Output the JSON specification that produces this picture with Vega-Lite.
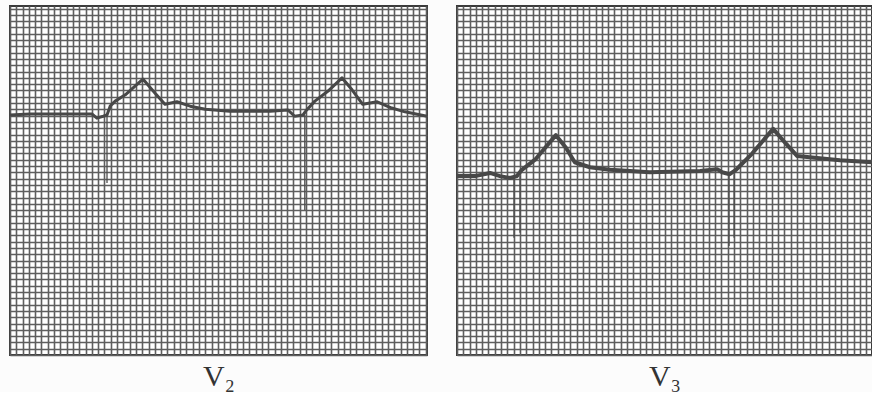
{
  "$schema": "https://vega.github.io/schema/vega-lite/v6.json",
  "background": "#fcfcfc",
  "padding": {"left": 7, "top": 5, "right": 0, "bottom": 0},
  "spacing": 24,
  "datasets": {
    "v2": [
      {"mm": 0, "amp": 38.1}, {"mm": 3.17, "amp": 38.25}, {"mm": 11.1, "amp": 38.25}, {"mm": 13.0, "amp": 38.25},
      {"mm": 13.8, "amp": 37.6}, {"mm": 14.8, "amp": 37.9}, {"mm": 15.4, "amp": 38.1}, {"mm": 15.9, "amp": 39.5},
      {"mm": 16.7, "amp": 40.3}, {"mm": 18.3, "amp": 41.3}, {"mm": 21.1, "amp": 43.8}, {"mm": 23.0, "amp": 41.6},
      {"mm": 24.6, "amp": 39.8}, {"mm": 26.5, "amp": 40.2}, {"mm": 28.6, "amp": 39.5}, {"mm": 31.0, "amp": 39.0},
      {"mm": 34.9, "amp": 38.7}, {"mm": 41.3, "amp": 38.7}, {"mm": 44.1, "amp": 38.9}, {"mm": 45.2, "amp": 37.9},
      {"mm": 46.5, "amp": 38.1}, {"mm": 47.1, "amp": 38.9}, {"mm": 48.4, "amp": 40.3}, {"mm": 50.5, "amp": 41.9},
      {"mm": 52.7, "amp": 44.0}, {"mm": 54.3, "amp": 42.1}, {"mm": 56.0, "amp": 39.8}, {"mm": 58.3, "amp": 40.2},
      {"mm": 60.6, "amp": 39.2}, {"mm": 62.7, "amp": 38.6}, {"mm": 66.2, "amp": 37.9}
    ],
    "v2spikes": [
      {"mm": 15.4, "top": 38.1, "bottom": 27.3},
      {"mm": 46.8, "top": 38.1, "bottom": 23.0}
    ],
    "v3": [
      {"mm": 0, "amp": 28.4}, {"mm": 2.86, "amp": 28.4}, {"mm": 5.24, "amp": 28.9}, {"mm": 6.83, "amp": 28.4},
      {"mm": 8.41, "amp": 28.1}, {"mm": 9.52, "amp": 28.4}, {"mm": 10.3, "amp": 29.4}, {"mm": 12.4, "amp": 31.0},
      {"mm": 15.7, "amp": 34.9}, {"mm": 17.3, "amp": 32.9}, {"mm": 18.7, "amp": 30.6}, {"mm": 21.1, "amp": 29.8},
      {"mm": 24.3, "amp": 29.4}, {"mm": 30.6, "amp": 29.0}, {"mm": 38.6, "amp": 29.2}, {"mm": 41.3, "amp": 29.5},
      {"mm": 42.1, "amp": 29.0}, {"mm": 43.3, "amp": 28.7}, {"mm": 44.3, "amp": 29.4}, {"mm": 44.9, "amp": 30.0},
      {"mm": 46.8, "amp": 31.9}, {"mm": 50.2, "amp": 35.9}, {"mm": 52.1, "amp": 33.7}, {"mm": 54.0, "amp": 31.6},
      {"mm": 56.8, "amp": 31.3}, {"mm": 60.8, "amp": 30.9}, {"mm": 65.9, "amp": 30.6}
    ],
    "v3spikes": [
      {"mm": 9.05, "top": 28.2, "bottom": 18.6},
      {"mm": 10.0, "top": 28.4, "bottom": 19.4},
      {"mm": 43.2, "top": 28.7, "bottom": 17.3},
      {"mm": 44.0, "top": 28.7, "bottom": 18.6}
    ]
  },
  "hconcat": [
    {
      "width": 417,
      "height": 349,
      "encoding": {
        "x": {"field": "mm", "type": "quantitative", "scale": {"domain": [0, 66.2], "nice": false, "zero": false},
              "axis": {"title": "V₂", "tickCount": 66}}
      },
      "layer": [
        {
          "data": {"name": "v2spikes"},
          "mark": {"type": "rule", "color": "#4d4d4d", "strokeWidth": 1.3},
          "encoding": {
            "y": {"field": "top", "type": "quantitative", "scale": {"domain": [0, 55.4], "nice": false},
                  "axis": {"title": null, "tickCount": 55}},
            "y2": {"field": "bottom"}
          }
        },
        {
          "data": {"name": "v2"},
          "mark": {"type": "line", "color": "#484848", "strokeWidth": 3, "strokeJoin": "round"},
          "encoding": {
            "y": {"field": "amp", "type": "quantitative"}
          }
        }
      ]
    },
    {
      "width": 415,
      "height": 349,
      "encoding": {
        "x": {"field": "mm", "type": "quantitative", "scale": {"domain": [0, 65.9], "nice": false, "zero": false},
              "axis": {"title": "V₃", "tickCount": 66}}
      },
      "layer": [
        {
          "data": {"name": "v3spikes"},
          "mark": {"type": "rule", "color": "#4d4d4d", "strokeWidth": 1.3},
          "encoding": {
            "y": {"field": "top", "type": "quantitative", "scale": {"domain": [0, 55.4], "nice": false},
                  "axis": {"title": null, "tickCount": 55}},
            "y2": {"field": "bottom"}
          }
        },
        {
          "data": {"name": "v3"},
          "mark": {"type": "line", "color": "#484848", "strokeWidth": 4, "strokeJoin": "round"},
          "encoding": {
            "y": {"field": "amp", "type": "quantitative"}
          }
        }
      ]
    }
  ],
  "config": {
    "view": {"stroke": "#3a3a3a", "strokeWidth": 2, "fill": "#ffffff"},
    "axis": {
      "grid": true,
      "gridColor": "#5e5e5e",
      "gridWidth": 1.6,
      "gridOpacity": 1,
      "domain": false,
      "ticks": false,
      "labels": false,
      "titleFont": "Liberation Serif",
      "titleFontSize": 30,
      "titleFontWeight": "normal",
      "titleColor": "#333333",
      "titlePadding": 6
    }
  }
}
